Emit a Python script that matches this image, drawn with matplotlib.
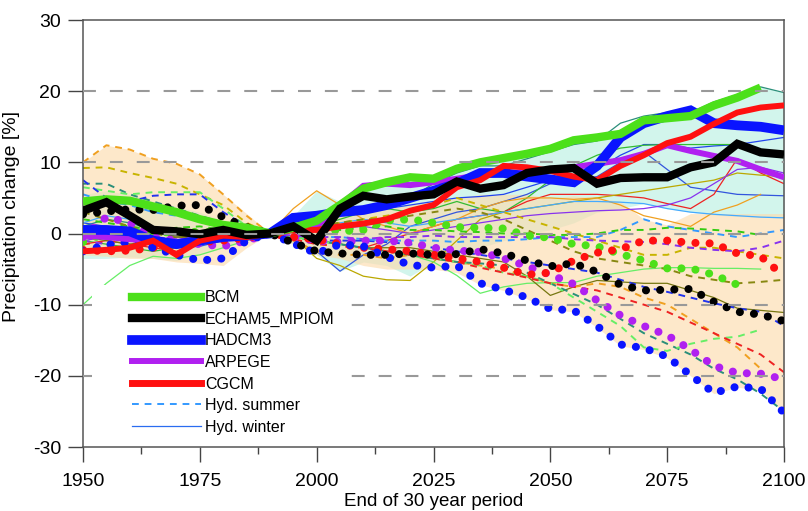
import numpy as np
import matplotlib
matplotlib.use("Agg")
import matplotlib.pyplot as plt
from matplotlib.lines import Line2D
from matplotlib.patches import Rectangle

plt.rcParams['font.family'] = ['Liberation Sans', 'DejaVu Sans']
plt.rcParams['axes.unicode_minus'] = False

N = None
years = list(range(1950, 2101, 5))

# ---- GCM winter (thick solid) ----
bcm_w    = [4.5, 4.8, 4.6, 3.8, 3.0, 2.0, 1.2, 0.8, 0.0, 0.8, 1.8, 4.0, 6.3, 7.2, 7.9, 7.7, 9.1, 10.0, 10.6, 11.2, 11.9, 13.1, 13.5, 14.0, 15.9, 16.2, 16.5, 18.0, 19.1, 20.5, N]
echam_w  = [3.2, 4.4, 2.5, 0.5, 0.3, -0.1, 0.5, -0.2, 0.0, 1.0, -1.0, 3.5, 5.3, 4.8, 5.2, 5.5, 7.3, 6.3, 6.8, 8.5, 9.0, 9.2, 7.0, 7.8, 7.9, 7.9, 9.3, 10.0, 12.6, 11.4, 11.1]
hadcm_w  = [0.5, 0.5, 0.3, -1.0, -1.5, -1.0, -0.5, -0.3, 0.0, 2.2, 2.5, 3.0, 3.3, 4.0, 5.0, 6.0, 7.0, 8.5, 8.5, 8.0, 7.6, 7.2, 9.5, 13.5, 15.5, 16.5, 17.3, 15.5, 15.2, 15.0, 14.5]
arpege_w = [-0.3, -0.5, -0.8, -1.0, -1.2, -0.8, -0.7, -0.5, 0.0, 0.5, 1.0, 4.0, 6.7, 7.0, 6.8, 7.2, 7.7, 8.2, 8.4, 8.7, 9.0, 9.3, 9.8, 10.3, 11.2, 12.4, 11.6, 10.9, 10.2, 9.0, 7.9]
cgcm_w   = [-2.5, -2.3, -2.0, -1.0, -3.0, -1.0, -0.3, -0.5, 0.0, 0.5, 0.5, 1.0, 1.4, 2.0, 3.2, 4.0, 6.5, 7.5, 9.5, 9.3, 8.8, 8.0, 7.5, 9.5, 11.0, 12.7, 13.6, 15.4, 17.0, 17.7, 18.0]

# ---- GCM summer (thick dotted) ----
bcm_s    = [-1.2, 0.1, 0.2, 0.0, 0.3, 0.2, 0.3, 0.4, 0.0, 0.5, 1.0, 0.3, 0.5, 1.8, 2.0, 1.5, 0.9, 0.8, 0.7, -0.3, -0.6, -1.5, -1.8, -2.9, -3.8, -4.9, -4.9, -5.8, -7.2, N, N]
echam_s  = [2.7, 3.1, 3.4, 3.3, 3.9, 4.0, 2.3, 0.9, 0.0, -1.3, -2.5, -2.8, -3.0, -3.0, -2.8, -3.0, -2.9, -2.2, -2.8, -3.8, -4.6, -4.2, -5.4, -7.2, -8.0, -7.9, -7.8, -9.6, -11.0, -11.4, -12.3]
hadcm_s  = [-2.5, -1.6, -1.2, -2.0, -3.0, -3.8, -3.5, -1.0, 0.0, -1.4, -2.8, -1.5, -1.8, -3.3, -4.4, -4.8, -4.5, -7.0, -7.9, -9.0, -10.6, -10.8, -13.0, -15.6, -16.1, -17.3, -19.9, -22.4, -21.5, -21.8, -25.2]
arpege_s = [-0.5, 2.3, 1.5, -0.5, -1.0, -1.5, -1.8, -1.0, 0.0, -0.5, -1.0, -1.2, -1.0, -1.0, -1.3, -2.0, -2.4, -2.6, -3.5, -4.6, -5.8, -7.1, -9.4, -11.5, -13.0, -14.3, -16.3, -18.6, -19.6, -19.7, -20.5]
cgcm_s   = [-2.3, -2.5, -2.4, -2.0, -1.3, -1.2, -1.0, -0.6, 0.0, -0.5, -0.8, -1.5, -2.0, -2.2, -2.5, -3.0, -3.5, -4.0, -4.8, -5.8, -5.5, -3.8, -2.7, -2.2, -1.0, -1.0, -1.3, -1.4, -2.8, -3.2, -6.0]

# ---- envelopes ----
winter_hi = [5.5, 6.0, 5.5, 4.5, 3.8, 3.0, 1.8, 1.0, 0.0, 2.5, 6.0, 4.5, 6.8, 7.2, 8.0, 8.0, 9.2, 10.1, 10.7, 11.3, 12.0, 13.2, 13.6, 14.5, 16.0, 16.8, 17.3, 18.1, 19.2, 20.6, 19.8]
winter_lo = [-3.5, -3.5, -3.3, -3.5, -3.8, -3.0, -2.0, -1.0, 0.0, -1.5, -3.0, -5.3, -4.0, -4.5, -6.0, -4.0, -3.0, -2.0, -1.0, 0.0, 0.5, 1.5, 3.0, 3.5, 4.2, 3.5, 3.0, 2.6, 2.4, 2.3, 2.2]
summer_hi = [10.0, 12.4, 11.8, 10.5, 9.8, 8.3, 5.5, 2.8, 0.0, 1.5, 2.5, 3.0, 3.5, 3.5, 4.0, 4.5, 5.0, 5.5, 5.5, 5.5, 5.0, 5.3, 5.0, 4.5, 2.0, 1.2, 2.8, 2.8, 2.8, 2.8, 2.8]
summer_lo = [-3.0, -3.2, -3.5, -3.5, -4.0, -4.2, -4.5, -2.0, 0.0, -1.5, -3.0, -3.5, -4.5, -5.0, -5.0, -5.0, -5.5, -7.2, -8.0, -9.2, -10.7, -11.0, -13.2, -15.8, -16.3, -17.5, -20.0, -22.5, -21.6, -22.0, -25.3]

# ---- hydrological model runs, winter (thin solid) ----
hw_teal   = [1.0, 2.0, 1.5, 0.5, 0.3, 0.0, 0.5, 0.3, 0.0, 1.5, 2.5, 3.5, 3.8, 4.2, 5.0, 7.0, 8.5, 9.5, 9.5, 10.5, 11.5, 12.5, 13.0, 15.5, 16.5, 17.0, 17.0, 18.5, 19.5, 20.6, 19.8]
hw_blue1  = [1.5, 1.0, 0.8, 0.2, -0.5, -0.8, -0.3, 0.2, 0.0, 1.0, 1.8, 2.5, 3.0, 3.5, 4.0, 4.5, 5.0, 5.2, 5.5, 6.5, 7.5, 8.0, 9.0, 11.0, 12.5, 12.5, 12.0, 12.3, 12.5, 13.0, 13.5]
hw_blue2  = [0.5, 0.0, -0.5, -1.5, -2.0, -1.8, -1.0, -0.5, 0.0, -1.0, -2.5, -5.3, -3.0, -1.5, 1.0, 2.0, 3.0, 3.5, 4.5, 5.5, 7.0, 7.5, 8.0, 10.0, 11.5, 9.0, 6.5, 6.0, 5.5, 5.4, 5.3]
hw_green  = [-1.0, -1.5, -2.0, -2.5, -2.0, -1.5, -1.0, -0.5, 0.0, 0.5, 1.0, 2.0, 3.0, 3.5, 3.0, 3.5, 4.5, 3.5, 3.0, 5.0, 7.5, 9.5, 11.0, 12.0, 12.4, 12.5, 12.5, 12.5, 12.5, 11.5, 11.0]
hw_red    = [-1.5, -1.0, -1.5, -2.0, -2.5, -1.0, -0.5, -0.2, 0.0, -0.5, -1.0, -1.5, -2.0, -1.0, 0.0, 1.0, 2.0, 2.5, 3.0, 4.5, 5.5, 5.5, 5.5, 5.3, 5.0, 4.2, 3.5, 5.5, 10.5, 8.5, 7.0]
hw_yellow = [0.5, 0.0, -0.5, -1.0, -0.5, -0.3, 0.0, 0.2, 0.0, -0.5, -3.5, -4.5, -6.0, -6.5, -6.6, -4.0, -1.0, 2.0, 3.0, 3.5, 4.0, 4.5, 5.0, 5.5, 6.0, 6.5, 7.0, 7.5, 8.5, 8.2, 8.0]
hw_orange = [0.0, -0.5, -0.8, -1.0, -1.2, -0.5, -0.2, 0.0, 0.0, 3.5, 6.0, 4.0, 2.0, 1.0, 0.0, 1.0, 2.0, 3.5, 4.5, 5.0, 5.0, 4.8, 5.0, 4.0, 2.5, 1.8, 1.0, 3.0, 4.0, 5.5, N]
hw_lblue  = [1.5, 2.5, 2.0, 1.0, 0.5, 0.3, 0.5, 0.2, 0.0, 0.5, 1.0, 1.5, 2.0, 1.5, 1.0, 1.5, 2.0, 2.5, 3.0, 3.5, 4.0, 4.5, 4.5, 4.4, 4.2, 3.5, 3.0, 2.7, 2.5, 2.3, 2.2]
hw_purple = [-1.0, -0.5, -1.0, -1.5, -1.0, -0.8, -0.5, -0.3, 0.0, 0.3, 0.5, 0.8, 1.0, 0.5, 0.0, 0.5, 1.0, 1.5, 2.0, 2.5, 2.8, 3.0, 3.2, 3.3, 3.5, 4.0, 5.0, 7.0, 9.0, 9.3, 8.5]
hw_lgreen = [-10.0, -7.0, -4.5, -3.2, -3.5, -3.0, -2.0, -1.0, 0.0, -0.5, -1.0, -1.5, -2.0, -2.5, -3.0, -4.0, -5.9, -8.4, -7.5, -7.0, -6.9, -6.9, -6.0, -5.5, -5.0, -4.8, -4.8, -4.9, -4.9, -5.0, N]
hw_olive  = [-0.5, -1.0, -1.5, -1.0, -0.5, -0.3, -0.2, 0.0, 0.0, -0.5, -1.0, -1.5, -2.0, -2.0, -2.0, -2.5, -3.0, -3.5, -4.0, -6.0, -8.7, -7.5, -6.6, -6.8, -7.0, -7.0, -8.0, -9.0, -10.5, -10.8, -11.1]

# ---- hydrological model runs, summer (thin dashed) ----
hs_orange = [10.0, 12.4, 11.8, 10.5, 9.8, 8.3, 5.5, 2.5, 0.0, -1.0, -2.5, -3.0, -3.0, -3.5, -3.0, -3.5, -4.0, -4.5, -5.0, -6.0, -7.0, -7.5, -7.0, -7.5, -9.0, -10.0, -12.0, -14.0, -16.0, -19.0, N]
hs_yellow = [9.2, 9.3, 8.5, 7.8, 7.0, 5.5, 4.0, 1.5, 0.0, 0.5, 1.0, 1.5, 2.0, 2.5, 3.0, 4.0, 5.0, 4.0, 3.0, 2.0, 1.0, 0.0, -1.0, -2.0, -3.0, -3.0, -2.0, -2.0, -2.5, -3.0, -3.5]
hs_teal   = [7.0, 7.0, 5.5, 4.5, 3.5, 2.5, 1.5, 0.5, 0.0, -0.5, -1.0, -1.5, -2.0, -2.5, -3.0, -3.5, -4.0, -4.2, -4.5, -5.5, -7.0, -8.5, -10.0, -12.0, -14.0, -15.5, -17.0, -19.0, -20.5, -22.5, -25.0]
hs_lgreen = [6.5, 6.0, 5.5, 5.8, 5.8, 5.8, 3.5, 1.0, 0.0, -0.5, -1.0, -1.5, -2.0, -2.5, -3.0, -3.5, -4.0, -4.5, -5.5, -6.0, -7.0, -9.0, -11.0, -13.0, -16.0, -16.5, -15.5, -14.8, -14.5, -13.5, N]
hs_blue   = [7.5, 5.0, 4.5, 5.3, 5.5, 5.5, 3.0, 1.0, 0.0, -0.5, -1.0, -1.0, -1.0, -1.2, -1.5, -2.0, -2.5, -3.0, -3.5, -4.0, -4.5, -5.0, -5.5, -6.5, -7.5, -8.2, -9.0, -9.8, -10.5, -11.0, -13.0]
hs_dblue  = [5.5, 4.5, 4.0, 3.0, 2.5, 2.0, 1.5, 0.5, 0.0, -0.3, -0.5, -0.5, -0.8, -1.0, -1.0, -1.0, -1.2, -1.0, -1.0, -0.8, -0.5, -0.5, -0.5, 0.5, 2.0, 1.0, 0.5, 0.0, -0.5, 0.0, 0.5]
hs_red    = [-1.5, -1.2, -1.0, -1.5, -2.0, -1.5, -1.0, -0.5, 0.0, -0.8, -1.5, -1.8, -2.0, -2.5, -3.0, -3.5, -4.0, -4.8, -5.5, -6.2, -7.0, -7.5, -8.0, -9.0, -10.0, -11.0, -12.5, -14.0, -15.5, -17.0, -19.5]
hs_green  = [2.0, 1.5, 1.0, 0.5, 0.8, 1.0, 0.5, 0.2, 0.0, 0.3, 0.5, 0.5, 0.8, 1.0, 0.5, 0.5, 0.3, 0.2, 0.0, 0.0, -0.2, -0.2, 0.0, 0.5, 0.5, 0.8, 0.7, 0.5, 0.3, -0.2, N]
hs_purple = [-1.0, -1.5, -1.2, -0.5, -0.8, -1.0, -0.5, -0.2, 0.0, -0.3, -0.5, -0.5, -0.8, -0.5, -0.5, -0.3, -0.5, -0.5, -0.5, -0.5, -0.5, -0.8, -1.0, -1.1, -1.2, -1.5, -2.0, -2.3, -2.5, -2.0, -1.0]
hs_olive  = [3.0, 2.0, 1.0, 0.0, -0.5, -0.5, -0.3, 0.0, 0.0, 0.5, 1.0, 1.5, 2.0, 2.0, 2.5, 3.0, 3.5, 3.0, 2.0, 0.5, -1.0, -2.5, -3.5, -4.0, -4.5, -5.0, -6.0, -6.5, -7.0, -6.8, -6.5]

legend_labels = ["BCM", "ECHAM5_MPIOM", "HADCM3", "ARPEGE", "CGCM", "Hyd. summer", "Hyd. winter"]
x_ticks = [1950, 1975, 2000, 2025, 2050, 2075, 2100]
y_ticks = [-30, -20, -10, 0, 10, 20, 30]
grid_levels = [-20, -10, 0, 10, 20]


def arr(v):
    return np.array([np.nan if e is None else e for e in v], dtype=float)


yrs = np.array(years, dtype=float)

fig = plt.figure(figsize=(8.08, 5.11), dpi=100)
ax = fig.add_axes([83 / 808, 1 - 447 / 511, (784 - 83) / 808, (447 - 20) / 511])

# envelopes
ax.fill_between(yrs, arr(winter_lo), arr(winter_hi), color='#d2f5ec', lw=0, zorder=1)
ax.fill_between(yrs, arr(summer_lo), arr(summer_hi), color='#fcdcae', alpha=0.65, lw=0, zorder=1.1)

# thin lines
winter_thin = [(hw_teal, '#2a8f7a'), (hw_blue1, '#2244ee'), (hw_blue2, '#3355dd'),
               (hw_green, '#33bb33'), (hw_red, '#ee2222'), (hw_yellow, '#bba800'),
               (hw_orange, '#f0a020'), (hw_lblue, '#44aaff'), (hw_purple, '#8833ee'),
               (hw_lgreen, '#66ee66'), (hw_olive, '#777711')]
for vals, c in winter_thin:
    ax.plot(yrs, arr(vals), color=c, lw=0.9, zorder=2)

summer_thin = [(hs_orange, '#f0a020'), (hs_yellow, '#c8b400'), (hs_teal, '#2a8f7a'),
               (hs_lgreen, '#66ee66'), (hs_blue, '#2233ee'), (hs_dblue, '#3399ff'),
               (hs_red, '#ee2222'), (hs_green, '#33cc11'), (hs_purple, '#8833ee'),
               (hs_olive, '#888811')]
for vals, c in summer_thin:
    ax.plot(yrs, arr(vals), color=c, lw=1.4, dashes=(3.5, 3.0), zorder=2)

colors = {'bcm': '#4ce01a', 'echam': '#000000', 'hadcm': '#0a14ff', 'arpege': '#b020f0', 'cgcm': '#ff1010'}
widths = {'bcm': 6.0, 'echam': 6.0, 'hadcm': 7.0, 'arpege': 4.3, 'cgcm': 4.3}

# summer dotted (thick dots)
for key, vals in [('bcm', bcm_s), ('arpege', arpege_s), ('cgcm', cgcm_s), ('hadcm', hadcm_s), ('echam', echam_s)]:
    ax.plot(yrs, arr(vals), color=colors[key], lw=5.8, dashes=(0.01, 1.75),
            dash_capstyle='round', zorder=3)

# winter thick solid
for key, vals in [('arpege', arpege_w), ('hadcm', hadcm_w), ('cgcm', cgcm_w), ('bcm', bcm_w), ('echam', echam_w)]:
    ax.plot(yrs, arr(vals), color=colors[key], lw=widths[key], solid_joinstyle='miter',
            solid_capstyle='butt', zorder=4)

# dashed horizontal reference lines
for g in grid_levels:
    ax.axhline(g, color='#999999', lw=1.5, dashes=(6.2, 6.7), zorder=5)

ax.set_xlim(1950, 2100)
ax.set_ylim(-30, 30)
ax.set_xticks(x_ticks)
ax.set_xticks(np.arange(1962.5, 2100, 25), minor=True)
ax.set_yticks(y_ticks)
ax.tick_params(axis='both', which='major', direction='out', length=10.8, width=1.0,
               color='#444444', labelsize=14, pad=5)
ax.tick_params(axis='x', which='major', pad=8)
ax.tick_params(axis='x', which='minor', direction='out', length=5.2, width=1.0, color='#444444')
for s in ax.spines.values():
    s.set_color('#555555')
    s.set_linewidth(1.1)

ax.set_ylabel("Precipitation change [%]", fontsize=14)
ax.yaxis.set_label_coords(-0.09, 0.54)
ax.set_xlabel("End of 30 year period", fontsize=13.5, labelpad=2)

# white background behind the legend (hides lines/grid there)
bg = Rectangle(((92 - 83) / 701, (447 - 440) / 427), 258 / 701, 155 / 427,
               transform=ax.transAxes, facecolor='white', edgecolor='none', zorder=15)
ax.add_patch(bg)

handles = [
    Line2D([], [], color=colors['bcm'], lw=6),
    Line2D([], [], color=colors['echam'], lw=6),
    Line2D([], [], color=colors['hadcm'], lw=7),
    Line2D([], [], color=colors['arpege'], lw=4.3),
    Line2D([], [], color=colors['cgcm'], lw=5),
    Line2D([], [], color='#3399ff', lw=1.4, dashes=(3.5, 3.0)),
    Line2D([], [], color='#2a6cf0', lw=0.9),
]
leg = ax.legend(handles, legend_labels, loc='upper left',
                bbox_to_anchor=((129 - 83) / 701, 1 - (287 - 20) / 427), frameon=False, fontsize=11.5,
                handlelength=4.3, handletextpad=0.25, labelspacing=0.41,
                borderpad=0.2, borderaxespad=0.0)
leg.set_zorder(20)

fig.savefig("out.png", dpi=100)
